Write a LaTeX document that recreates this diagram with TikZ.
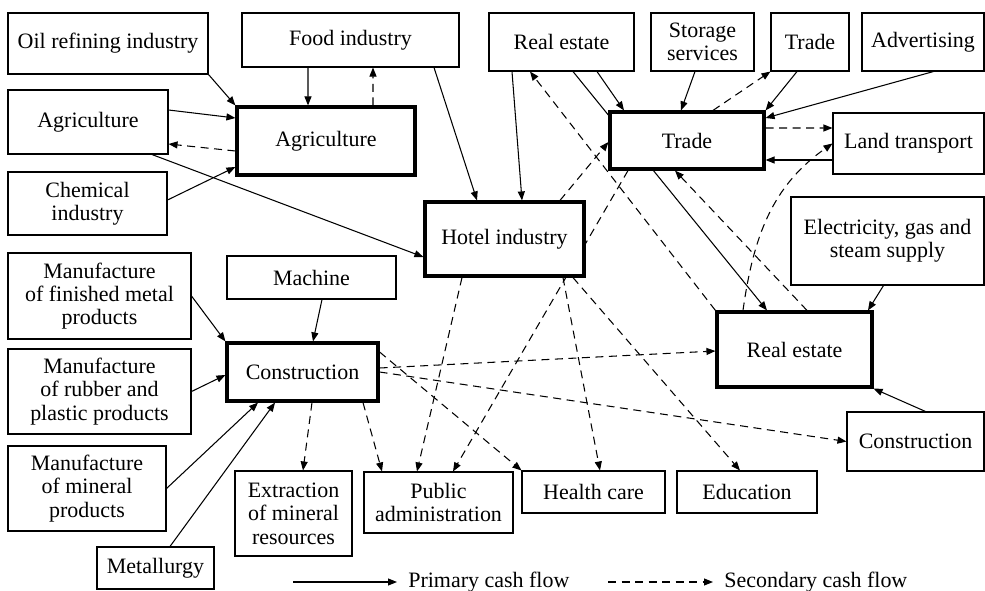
\documentclass[tikz,border=0pt]{standalone}
\usepackage{fontspec}
\setmainfont{Liberation Serif}
\usetikzlibrary{arrows.meta,backgrounds}

\tikzset{
  sector/.style={draw, line width=0.6pt, fill=white, align=center, inner sep=0pt,
    font=\fontsize{12.5}{13.3}\selectfont},
  keysector/.style={sector, line width=1.8pt},
  legendtext/.style={anchor=west, inner sep=0pt, inner xsep=2.2mm,
    font=\fontsize{12.5}{13.3}\selectfont},
  primary/.style={line width=0.6pt, ->},
  secondary/.style={primary, dash pattern=on 1.6mm off 1.1mm},
}

\begin{document}
\begin{tikzpicture}[x=0.2mm, y=-0.2mm, >={Triangle[length=1.8mm,width=1.4mm]}]
\useasboundingbox (0,0) rectangle (985,591);

% top row
\node[sector, minimum width=40mm, minimum height=12.2mm] (oil) at (108,43.5) {Oil refining industry};
\node[sector, minimum width=43.4mm, minimum height=10.8mm] (food) at (350.5,40) {Food industry};
\node[sector, minimum width=29mm, minimum height=11.6mm] (retop) at (561.5,42) {Real estate};
\node[sector, minimum width=20.6mm, minimum height=11.6mm] (storage) at (702.5,42) {Storage\\services};
\node[sector, minimum width=15.6mm, minimum height=11.6mm] (tradetop) at (810,42) {Trade};
\node[sector, minimum width=24.4mm, minimum height=11.6mm] (adv) at (923,42) {Advertising};

% agriculture block
\node[sector, minimum width=32mm, minimum height=12.8mm] (agrileft) at (88,122) {Agriculture};
\node[keysector, minimum width=35.6mm, minimum height=13.6mm] (agri) at (326,141) {Agriculture};
\node[sector, minimum width=31.8mm, minimum height=12.6mm] (chem) at (87.5,203.5) {Chemical\\industry};

% trade block
\node[keysector, minimum width=30.8mm, minimum height=11.4mm] (trade) at (687,140.5) {Trade};
\node[sector, minimum width=30.2mm, minimum height=12.2mm] (land) at (908.5,143.5) {Land transport};

% hotel and real estate
\node[keysector, minimum width=31.8mm, minimum height=14.8mm] (hotel) at (504.5,239) {Hotel industry};
\node[sector, minimum width=38.6mm, minimum height=17.6mm] (elec) at (887.5,241) {Electricity, gas and\\steam supply};
\node[keysector, minimum width=31mm, minimum height=15mm] (realest) at (794.5,349.5) {Real estate};
\node[sector, minimum width=27.4mm, minimum height=11.8mm] (constright) at (915.5,441.5) {Construction};

% construction block
\node[sector, minimum width=33.8mm, minimum height=8.6mm] (machine) at (311.5,277.5) {Machine};
\node[sector, minimum width=36.6mm, minimum height=17.2mm] (metal) at (99.5,296) {Manufacture\\of finished metal\\products};
\node[keysector, minimum width=30.2mm, minimum height=11.6mm] (constr) at (302.5,372) {Construction};
\node[sector, minimum width=36.6mm, minimum height=17mm] (rubber) at (99.5,391.5) {Manufacture\\of rubber and\\plastic products};
\node[sector, minimum width=31.6mm, minimum height=17mm] (mineral) at (87,488.5) {Manufacture\\of mineral\\products};
\node[sector, minimum width=23.4mm, minimum height=8.4mm] (metallurgy) at (155.5,568) {Metallurgy};

% bottom row
\node[sector, minimum width=23.4mm, minimum height=17mm] (extraction) at (293.5,513.5) {Extraction\\of mineral\\resources};
\node[sector, minimum width=29.8mm, minimum height=12.2mm] (pubadm) at (438.5,502.5) {Public\\administration};
\node[sector, minimum width=28.6mm, minimum height=8.4mm] (health) at (593.5,492) {Health care};
\node[sector, minimum width=28mm, minimum height=8.4mm] (educ) at (747,492) {Education};

% legend
\coordinate (pstart) at (293,582);
\node[legendtext] (ptext) at (397,582) {Primary cash flow};
\coordinate (sstart) at (608,582);
\node[legendtext] (stext) at (713,582) {Secondary cash flow};

\begin{scope}[on background layer]
\fill[white] (0,0) rectangle (985,591);

% primary flows
\draw[primary] (oil.south east) -- (agri.north west);
\draw[primary] ([xshift=-8.5mm]food.south) -- ([xshift=-3.6mm]agri.north);
\draw[primary] ([yshift=2.4mm]agrileft.east) -- ([yshift=4.6mm]agri.west);
\draw[primary] ([yshift=0.7mm]chem.east) -- ([yshift=-5.2mm]agri.west);
\draw[primary] ([xshift=12.8mm]agrileft.south) -- ([yshift=-3.6mm]hotel.west);
\draw[primary] ([xshift=16.7mm]food.south) -- ([xshift=-5.5mm]hotel.north);
\draw[primary] ([xshift=-9.9mm]retop.south) -- ([xshift=3.5mm]hotel.north);
\draw[primary] ([xshift=2.3mm]retop.south) -- ([xshift=-5.5mm]realest.north);
\draw[primary] ([xshift=7.1mm]retop.south) -- ([xshift=-12.6mm]trade.north);
\draw[primary] ([xshift=-1.5mm]storage.south) -- ([xshift=-1.2mm]trade.north);
\draw[primary] ([xshift=-2.6mm]tradetop.south) -- (trade.north east);
\draw[primary] ([xshift=2.1mm]adv.south) -- ([yshift=4.5mm]trade.east);
\draw[primary] ([yshift=-3.3mm]land.west) -- ([yshift=-3.9mm]trade.east);
\draw[primary] ([xshift=-0.8mm]elec.south) -- ([xshift=14.7mm]realest.north);
\draw[primary] ([xshift=2mm]constright.north) -- (realest.south east);
\draw[primary] (metal.east) -- (constr.north west);
\draw[primary] (rubber.east) -- ([yshift=-0.6mm]constr.west);
\draw[primary] (mineral.east) -- ([xshift=-8.9mm]constr.south);
\draw[primary] ([xshift=2.9mm]metallurgy.north) -- ([xshift=-5.5mm]constr.south);
\draw[primary] ([xshift=2.1mm]machine.south) -- ([xshift=2.1mm]constr.north);

% secondary flows
\draw[secondary] ([xshift=9.4mm]agri.north) -- ([xshift=4.5mm]food.south);
\draw[secondary] ([yshift=-2mm]agri.west) -- ([yshift=-4.4mm]agrileft.east);
\draw[secondary] ([xshift=11.1mm]hotel.north) -- ([yshift=-0.3mm]trade.west);
\draw[secondary] ([xshift=-11.8mm]trade.south) -- ([xshift=2.9mm]pubadm.north);
\draw[secondary] ([xshift=-8.5mm]hotel.south) -- ([xshift=-4.3mm]pubadm.north);
\draw[secondary] ([xshift=11.7mm]hotel.south) -- ([xshift=1.3mm]health.north);
\draw[secondary] ([xshift=13.7mm]hotel.south) -- ([xshift=-1.4mm]educ.north);
\draw[secondary] ([xshift=5.2mm]trade.north) -- (tradetop.south west);
\draw[secondary] ([yshift=2.5mm]trade.east) -- ([yshift=3.1mm]land.west);
\draw[secondary] ([xshift=-10.3mm]realest.north) to[out=82, in=215] (land.west);
\draw[secondary] ([xshift=2.5mm]realest.north) -- ([xshift=-2.4mm]trade.south);
\draw[secondary] (realest.north west) -- ([xshift=-6.3mm]retop.south);
\draw[secondary] ([yshift=0.8mm]constr.east) -- ([yshift=-0.3mm]realest.west);
\draw[secondary] (constr.east) -- (constright.west);
\draw[secondary] ([yshift=4mm]constr.east) -- (health.north west);
\draw[secondary] ([xshift=1.9mm]constr.south) -- ([xshift=1.9mm]extraction.north);
\draw[secondary] ([xshift=12.1mm]constr.south) -- ([xshift=-11.3mm]pubadm.north);

% legend arrows
\draw[primary] (pstart) -- (ptext.west);
\draw[secondary] (sstart) -- (stext.west);
\end{scope}
\end{tikzpicture}
\end{document}
